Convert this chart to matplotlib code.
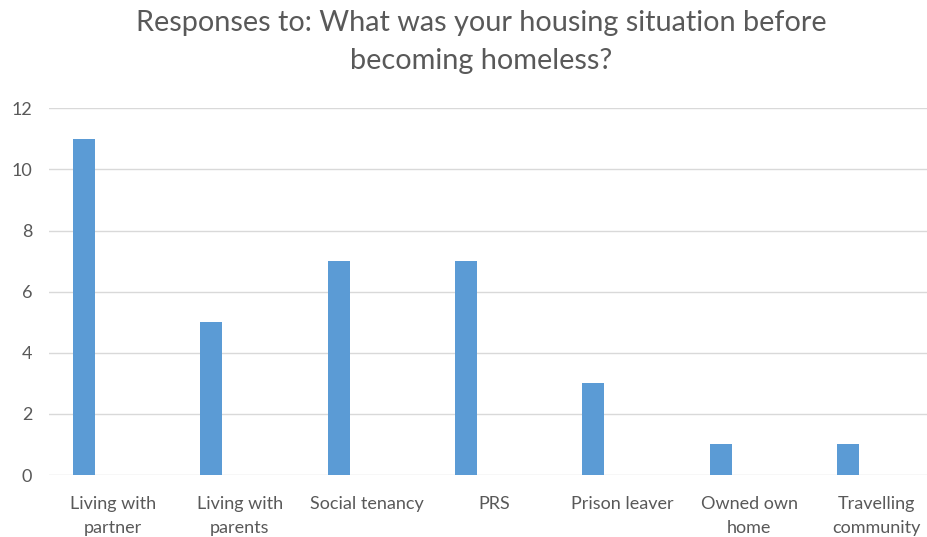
import matplotlib
matplotlib.use("Agg")
import matplotlib.pyplot as plt
import numpy as np

categories = ["Living with\npartner", "Living with\nparents", "Social tenancy", "PRS",
              "Prison leaver", "Owned own\nhome", "Travelling\ncommunity"]
values = [11, 5, 7, 7, 3, 1, 1]
yticks = [0, 2, 4, 6, 8, 10, 12]
title = "Responses to: What was your housing situation before\nbecoming homeless?"

plt.rcParams['font.family'] = ['Lato', 'DejaVu Sans']
W, H = 928, 537
fig = plt.figure(figsize=(W/100, H/100), dpi=100)
left, right = 49, 928
y0, ytop = 475, 108.3
ax = fig.add_axes([left/W, 1 - y0/H, (right-left)/W, (y0-ytop)/H])

x = np.arange(len(categories))
ax.bar(x - 0.224, values, width=0.173, color="#5B9BD5", zorder=3)
ax.set_xlim(-0.5, -0.5 + (right-left)/127.3)
ax.set_ylim(0, 12)
ax.set_yticks(yticks)
ax.set_xticks(x)
ax.set_xticklabels(categories, fontsize=13, color="#595959", linespacing=1.62)
ax.tick_params(axis='y', labelsize=13, labelcolor="#595959", length=0, pad=12)
ax.tick_params(axis='x', length=0, pad=15)
ax.grid(axis='y', color="#D9D9D9", linewidth=1, zorder=0)
for s in ax.spines.values():
    s.set_visible(False)
fig.text(481/W, 1 - 42/H, title, ha='center', va='center', fontsize=20.8,
         color="#595959", linespacing=1.55)
fig.savefig("out.png", dpi=100)
